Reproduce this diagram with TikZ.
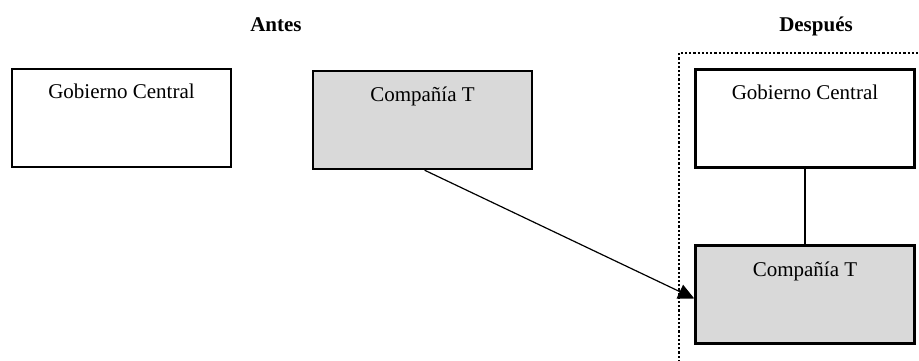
\documentclass[tikz,border=0pt]{standalone}
\usepackage{fontspec}
\setmainfont{Liberation Serif}
\usetikzlibrary{arrows.meta,calc}
\definecolor{boxgray}{HTML}{D9D9D9}
\begin{document}
\begin{tikzpicture}[x=1pt,y=-1pt,
  box/.style={draw=black,line width=2.5pt,rectangle,minimum width=219pt,minimum height=98pt,inner sep=0pt},
  graybox/.style={box,fill=boxgray},
  lbl/.style={font=\fontsize{21}{25}\selectfont,inner sep=0pt,anchor=base},
  head/.style={font=\fontsize{21}{25}\selectfont\bfseries,inner sep=0pt,anchor=base},
  conn/.style={line width=2pt},
  arr/.style={line width=1.2pt,-{Triangle[length=16pt,width=15pt]}},
  frame/.style={line width=2.4pt,dash pattern=on 2.2pt off 2pt}]
\useasboundingbox (0,0) rectangle (919,360);
% headers
\node[head] (antes) at (276,31) {Antes};
\node[head] (despues) at (816,31) {Después};
% dotted frame
\coordinate (fb) at (679,362);
\coordinate (ftl) at (679,53);
\coordinate (fr) at (925,53);
\draw[frame] (fb) -- (ftl) -- (fr);
% boxes
\node[box] (gL) at (121.5,118) {};
\node[graybox] (cL) at (422.5,120) {};
\node[box] (gR) at (805,118.5) {};
\node[graybox] (cR) at (805,294.5) {};
% labels
\node[lbl] (tgL) at ([yshift=-31pt]gL.north) {Gobierno Central};
\node[lbl] (tcL) at ([yshift=-32pt]cL.north) {Compañía T};
\node[lbl] (tgR) at ([yshift=-31pt]gR.north) {Gobierno Central};
\node[lbl] (tcR) at ([yshift=-32pt]cR.north) {Compañía T};
% connectors
\draw[conn] (gR.south) -- (cR.north);
\draw[arr] ($(cL.south west)!0.51!(cL.south east)$) -- ([yshift=-4pt]cR.west);
\end{tikzpicture}
\end{document}
